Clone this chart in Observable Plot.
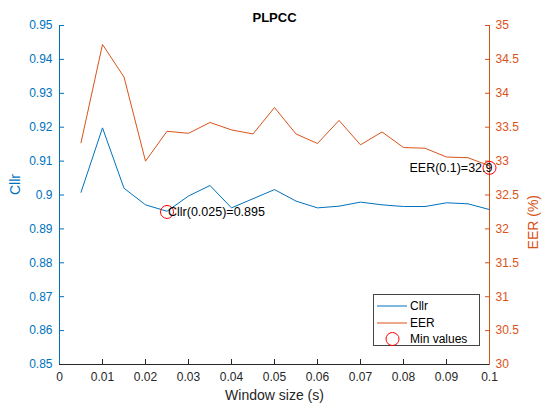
<!DOCTYPE html>
<html>
<head>
<meta charset="utf-8">
<script src="https://cdn.jsdelivr.net/npm/d3@7"></script>
<script src="https://cdn.jsdelivr.net/npm/@observablehq/plot@0.6"></script>
<style>
  html, body { margin: 0; padding: 0; background: #fff; }
  #wrap { position: relative; width: 542px; height: 410px; font-family: "Liberation Sans", Arial, sans-serif; }
  #legend { position: absolute; left: 373px; top: 294px; width: 107px; height: 52px; border: 1px solid #444; background: #fff; font-size: 12px; color: #000; box-sizing: border-box; }
  #legend .row { position: absolute; left: 0; height: 16px; display: flex; align-items: center; }
  #legend svg { display: block; }
</style>
</head>
<body>
<div id="wrap"></div>
<script>
// ---- data ----
const windowSize = [0.005, 0.01, 0.015, 0.02, 0.025, 0.03, 0.035, 0.04, 0.045, 0.05,
                    0.055, 0.06, 0.065, 0.07, 0.075, 0.08, 0.085, 0.09, 0.095, 0.1];
const cllr = [0.9008, 0.9198, 0.9020, 0.8971, 0.8952, 0.8997, 0.9028, 0.8962, 0.8989, 0.9016,
              0.8982, 0.8962, 0.8967, 0.8979, 0.8971, 0.8966, 0.8966, 0.8977, 0.8974, 0.8957];
const eer = [33.27, 34.72, 34.24, 33.00, 33.44, 33.41, 33.57, 33.46, 33.40, 33.79,
             33.40, 33.26, 33.60, 33.24, 33.43, 33.20, 33.19, 33.06, 33.05, 32.93];
const minCllr = {x: 0.025, value: 0.895};
const minEER = {x: 0.1, value: 32.9};
const xTicks = [0, 0.01, 0.02, 0.03, 0.04, 0.05, 0.06, 0.07, 0.08, 0.09, 0.1];
const cllrTicks = [0.85, 0.86, 0.87, 0.88, 0.89, 0.9, 0.91, 0.92, 0.93, 0.94, 0.95];
const eerTicks = [30, 30.5, 31, 31.5, 32, 32.5, 33, 33.5, 34, 34.5, 35];
const title = "PLPCC";
const xLabel = "Window size (s)";
const leftLabel = "Cllr";
const rightLabel = "EER (%)";
const seriesNames = ["Cllr", "EER", "Min values"];

// ---- styles ----
const BLUE = "#0072BD", ORANGE = "#D95319", GRAY = "#262626";
const cllrDomain = [0.85, 0.95], eerDomain = [30, 35];
const toLeft = e => cllrDomain[0] + (e - eerDomain[0]) / (eerDomain[1] - eerDomain[0]) * (cllrDomain[1] - cllrDomain[0]);

const cllrData = windowSize.map((x, i) => ({x, y: cllr[i]}));
const eerData = windowSize.map((x, i) => ({x, y: toLeft(eer[i])}));
const fmt = v => String(+v.toFixed(3));

const chart = Plot.plot({
  width: 542, height: 410,
  marginLeft: 59, marginRight: 53, marginTop: 25, marginBottom: 46,
  style: {fontFamily: '"Liberation Sans", Arial, sans-serif', fontSize: "12px", background: "white"},
  x: {domain: [0, 0.1]},
  y: {domain: cllrDomain},
  marks: [
    Plot.axisX(xTicks, {anchor: "bottom", tickSize: -5, tickPadding: 13, tickFormat: fmt, color: GRAY, stroke: GRAY, label: null}),
    Plot.axisY(cllrTicks, {anchor: "left", tickSize: -5, tickPadding: 12, tickFormat: fmt, color: BLUE, stroke: BLUE, label: null}),
    Plot.axisY(eerTicks.map(toLeft), {anchor: "right", tickSize: -5, tickPadding: 11, tickFormat: (d, i) => fmt(eerTicks[i]), color: ORANGE, stroke: ORANGE, label: null}),
    Plot.ruleY([cllrDomain[0]], {stroke: GRAY}),
    Plot.ruleX([0], {stroke: BLUE}),
    Plot.ruleX([0.1], {stroke: ORANGE}),
    Plot.line(cllrData, {x: "x", y: "y", stroke: BLUE, strokeWidth: 1}),
    Plot.line(eerData, {x: "x", y: "y", stroke: ORANGE, strokeWidth: 1}),
    Plot.dot([{x: minCllr.x, y: minCllr.value}, {x: minEER.x, y: toLeft(minEER.value)}], {x: "x", y: "y", r: 6.5, stroke: "red", strokeWidth: 1, fill: "none"}),
    Plot.text([minCllr], {x: "x", y: "value", text: d => `Cllr(${d.x})=${d.value}`, textAnchor: "start", dx: 1, fontSize: 12.5, fill: "#000"}),
    Plot.text([minEER], {x: "x", y: d => toLeft(d.value), text: d => `EER(${d.x})=${d.value}`, textAnchor: "end", dx: 3, fontSize: 12.5, fill: "#000"}),
    Plot.text([title], {frameAnchor: "top", dy: -13, fontWeight: "bold", fontSize: 13, fill: "#000"}),
    Plot.text([xLabel], {frameAnchor: "bottom", dy: 35, fontSize: 14, fill: GRAY}),
    Plot.text([leftLabel], {frameAnchor: "left", rotate: -90, dx: -44, fontSize: 14, fill: BLUE}),
    Plot.text([rightLabel], {frameAnchor: "right", rotate: -90, dx: 44, fontSize: 14, fill: ORANGE})
  ]
});

const wrap = document.getElementById("wrap");
wrap.appendChild(chart);

// legend
const legend = document.createElement("div");
legend.id = "legend";
const swatches = [
  `<svg width="31" height="10"><line x1="0" y1="5" x2="30" y2="5" stroke="${BLUE}" stroke-width="1"/></svg>`,
  `<svg width="31" height="10"><line x1="0" y1="5" x2="30" y2="5" stroke="${ORANGE}" stroke-width="1"/></svg>`,
  `<svg width="31" height="16"><circle cx="15.5" cy="8" r="6.5" fill="none" stroke="red" stroke-width="1"/></svg>`
];
seriesNames.forEach((name, i) => {
  const row = document.createElement("div");
  row.className = "row";
  row.style.top = (3 + i * 16.5) + "px";
  row.style.left = "3px";
  row.innerHTML = swatches[i] + `<span style="margin-left:2px">${name}</span>`;
  legend.appendChild(row);
});
wrap.appendChild(legend);
</script>
</body>
</html>
